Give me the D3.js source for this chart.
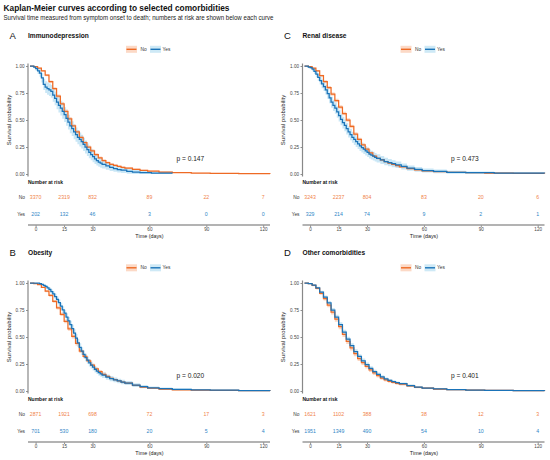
<!DOCTYPE html>
<html><head><meta charset="utf-8">
<script src="https://cdn.jsdelivr.net/npm/d3@7/dist/d3.min.js"></script>
<style>
body{margin:0;background:#fff;}
svg{display:block;font-family:"Liberation Sans",Arial,Helvetica,sans-serif;}
</style></head>
<body>
<svg id="chart" width="550" height="460"></svg>
<script>
// ---------------- DATA ----------------
const panelLetters = ["A", "B", "C", "D"];
const panelTitles = ["Immunodepression", "Obesity", "Renal disease", "Other comorbidities"];
const pValues = ["p = 0.147", "p = 0.020", "p = 0.473", "p = 0.401"];
const groupLabels = ["No", "Yes"];
const yTicks = [0, 0.25, 0.5, 0.75, 1];
const riskTimes = [0, 15, 30, 60, 90, 120];
const riskNo  = [[3370, 2319, 832, 89, 22, 7], [2871, 1921, 698, 72, 17, 3], [3243, 2237, 804, 83, 20, 6], [1621, 1102, 388, 38, 12, 3]];
const riskYes = [[202, 132, 46, 3, 0, 0], [701, 530, 180, 20, 5, 4], [329, 214, 74, 9, 2, 1], [1951, 1349, 490, 54, 10, 4]];

// survival estimates [day, probability]
const survA_No = [[0,1],[2,0.995],[4,0.98],[6,0.955],[8,0.915],[10,0.855],[12,0.79],[14,0.72],[16,0.65],[18,0.58],[20,0.51],[22,0.445],[24,0.39],[26,0.34],[28,0.29],[30,0.25],[32,0.215],[34,0.18],[36,0.15],[38,0.125],[40,0.105],[42,0.09],[44,0.08],[46,0.07],[48,0.062],[50,0.055],[54,0.043],[58,0.033],[62,0.026],[68,0.018],[75,0.012],[85,0.008],[95,0.005],[110,0.003],[126.5,0.002]];
const survA_Yes = [[0,1],[2,0.99],[3,0.975],[4,0.955],[5,0.935],[6,0.89],[7,0.83],[8,0.805],[9,0.79],[10,0.78],[11,0.765],[12,0.73],[13,0.7],[14,0.665],[15,0.635],[16,0.61],[17,0.58],[18,0.55],[19,0.515],[20,0.48],[21,0.445],[22,0.42],[23,0.39],[24,0.365],[25,0.34],[26,0.32],[27,0.3],[28,0.275],[29,0.25],[30,0.225],[31,0.2],[32,0.18],[33,0.16],[34,0.14],[35,0.125],[36,0.11],[37,0.1],[38,0.09],[40,0.075],[42,0.062],[44,0.05],[46,0.04],[48,0.035],[51,0.025],[54,0.018],[58,0.012],[64,0.008],[75,0.006]];
const survB_No = [[0,1],[2,0.995],[4,0.985],[6,0.96],[8,0.925],[10,0.885],[12,0.83],[14,0.77],[16,0.71],[18,0.645],[20,0.575],[22,0.505],[24,0.44],[26,0.37],[28,0.32],[30,0.28],[32,0.24],[34,0.205],[36,0.18],[38,0.155],[40,0.135],[42,0.118],[44,0.105],[46,0.094],[48,0.082],[50,0.072],[54,0.052],[58,0.036],[62,0.026],[68,0.017],[75,0.011],[85,0.007],[95,0.005],[110,0.003],[126.5,0.002]];
const survB_Yes = [[0,1],[3,0.999],[5,0.995],[6,0.988],[7,0.978],[8,0.968],[9,0.955],[10,0.94],[11,0.92],[12,0.9],[13,0.875],[14,0.848],[15,0.818],[16,0.787],[17,0.752],[18,0.72],[19,0.685],[20,0.65],[21,0.615],[22,0.578],[23,0.535],[24,0.49],[25,0.445],[26,0.405],[27,0.37],[28,0.34],[29,0.31],[30,0.285],[31,0.26],[32,0.24],[33,0.22],[34,0.2],[35,0.185],[36,0.17],[37,0.158],[38,0.147],[40,0.128],[42,0.115],[44,0.103],[46,0.093],[48,0.083],[50,0.074],[54,0.055],[58,0.04],[62,0.03],[68,0.021],[75,0.015],[85,0.01],[95,0.007],[110,0.004],[126.5,0.003]];
const survC_No = [[0,1],[2,0.995],[4,0.98],[6,0.955],[8,0.91],[10,0.855],[12,0.8],[14,0.74],[16,0.68],[18,0.62],[20,0.56],[22,0.5],[24,0.44],[26,0.37],[28,0.32],[30,0.27],[32,0.23],[34,0.195],[36,0.165],[38,0.145],[40,0.13],[42,0.115],[44,0.1],[46,0.088],[48,0.077],[50,0.067],[54,0.05],[58,0.038],[62,0.03],[68,0.022],[75,0.016],[85,0.012],[95,0.009],[110,0.006],[126.5,0.005]];
const survC_Yes = [[0,1],[2,0.99],[3,0.985],[4,0.97],[5,0.95],[6,0.925],[7,0.895],[8,0.865],[9,0.835],[10,0.81],[11,0.78],[12,0.745],[13,0.705],[14,0.665],[15,0.635],[16,0.61],[17,0.575],[18,0.54],[19,0.505],[20,0.475],[21,0.45],[22,0.42],[23,0.39],[24,0.365],[25,0.34],[26,0.32],[27,0.3],[28,0.28],[29,0.26],[30,0.245],[31,0.23],[32,0.215],[33,0.2],[34,0.185],[35,0.175],[36,0.165],[37,0.155],[38,0.145],[40,0.13],[42,0.115],[44,0.105],[46,0.095],[48,0.085],[51,0.07],[54,0.055],[58,0.042],[62,0.032],[68,0.024],[75,0.016],[85,0.012],[100,0.009],[126.5,0.008]];
const survD_No = [[0,1],[2,0.995],[4,0.978],[6,0.95],[8,0.905],[10,0.855],[12,0.795],[14,0.73],[16,0.665],[18,0.595],[20,0.525],[22,0.46],[24,0.4],[26,0.345],[28,0.3],[30,0.262],[32,0.228],[34,0.195],[36,0.167],[38,0.143],[40,0.12],[42,0.103],[44,0.09],[46,0.08],[48,0.071],[50,0.063],[54,0.047],[58,0.034],[62,0.026],[68,0.018],[75,0.012],[85,0.008],[95,0.005],[110,0.003],[126.5,0.002]];
const survD_Yes = [[0,1],[2,0.995],[4,0.98],[6,0.955],[8,0.915],[10,0.87],[12,0.815],[14,0.75],[16,0.685],[18,0.615],[20,0.545],[22,0.48],[24,0.42],[26,0.365],[28,0.32],[30,0.28],[32,0.245],[34,0.21],[36,0.18],[38,0.155],[40,0.13],[42,0.112],[44,0.098],[46,0.087],[48,0.077],[50,0.068],[54,0.05],[58,0.036],[62,0.027],[68,0.019],[75,0.013],[85,0.008],[95,0.005],[110,0.003],[126.5,0.002]];

const survNo = [survA_No, survB_No, survC_No, survD_No];
const survYes = [survA_Yes, survB_Yes, survC_Yes, survD_Yes];

// ---------------- STYLE ----------------
const colNo = "#EE6A24", colYes = "#1A73B8";
const bandNo = "#F9B48E", bandYes = "#9ED4EE";
const colNoTxt = "#F0834A", colYesTxt = "#2F86C6";

const svg = d3.select("#chart");
svg.append("rect").attr("width", 550).attr("height", 460).attr("fill", "#fff");

svg.append("text").attr("x", 3.5).attr("y", 10.5)
  .attr("font-size", 9.5).attr("font-weight", "bold").attr("fill", "#111")
  .attr("textLength", 226).attr("lengthAdjust", "spacingAndGlyphs")
  .text("Kaplan-Meier curves according to selected comorbidities");
svg.append("text").attr("x", 3.5).attr("y", 19.5)
  .attr("font-size", 6.3).attr("fill", "#222")
  .attr("textLength", 270).attr("lengthAdjust", "spacingAndGlyphs")
  .text("Survival time measured from symptom onset to death; numbers at risk are shown below each curve");

const origins = [[0, 0], [0, 217], [274.5, 0], [274.5, 217]];

function drawPanel(i) {
  const [ox, oy] = origins[i];
  const g = svg.append("g").attr("transform", `translate(${ox},${oy})`);
  const y = d3.scaleLinear().domain([0, 1]).range([174, 66]);
  const x = d3.scaleLinear().domain([0, 126.5]).range([30, 270]);
  const xt = d3.scaleLinear().domain([0, 120]).range([35.6, 263.2]);

  // letter + title
  g.append("text").attr("x", 9.5).attr("y", 39).attr("font-size", 9.5).attr("fill", "#111").text(panelLetters[i]);
  g.append("text").attr("x", 28).attr("y", 38).attr("font-size", 6.6).attr("font-weight", "bold").attr("fill", "#111").text(panelTitles[i]);

  // legend
  const ly = 49.3 + (i % 2 === 1 ? 1.5 : 0);
  const leg = [[126, colNo, bandNo, 140.5], [150, colYes, bandYes, 162.5]];
  leg.forEach((L, k) => {
    g.append("rect").attr("x", L[0]).attr("y", ly - 3.5).attr("width", 11).attr("height", 7)
      .attr("fill", L[2]).attr("opacity", 0.5);
    g.append("line").attr("x1", L[0] + 0.5).attr("x2", L[0] + 10.5).attr("y1", ly).attr("y2", ly)
      .attr("stroke", L[1]).attr("stroke-width", 1.4);
    g.append("text").attr("x", L[3]).attr("y", ly).attr("dy", "0.35em").attr("font-size", 4.8).attr("fill", "#333").text(groupLabels[k]);
  });

  // y axis
  const ya = g.append("g").attr("transform", "translate(28,0)")
    .call(d3.axisLeft(y).tickValues(yTicks).tickFormat(d3.format(".2f")).tickSize(2).tickPadding(1.5));
  ya.select(".domain").remove();
  ya.selectAll(".tick line").attr("stroke", "#444").attr("stroke-width", 0.6);
  ya.selectAll(".tick text").attr("font-size", 4.6).attr("fill", "#444").attr("font-family", "Liberation Sans, Arial, sans-serif");
  g.append("line").attr("x1", 28).attr("x2", 28).attr("y1", 63.5).attr("y2", 176.5).attr("stroke", "#888").attr("stroke-width", 1.2);
  g.append("text").attr("transform", `translate(10.5,120) rotate(-90)`).attr("text-anchor", "middle")
    .attr("font-size", 6).attr("fill", "#222").text("Survival probability");

  // bands + lines
  const groups = [[survNo[i], riskNo[i][0], colNo, bandNo], [survYes[i], riskYes[i][0], colYes, bandYes]];
  groups.forEach(([data, n, c, b]) => {
    const half = d => 1.96 * Math.sqrt(d[1] * (1 - d[1]) / n);
    const area = d3.area().curve(d3.curveStepAfter)
      .x(d => x(d[0]))
      .y0(d => y(Math.max(0, d[1] - half(d))))
      .y1(d => y(Math.min(1, d[1] + half(d))));
    g.append("path").datum(data).attr("d", area).attr("fill", b).attr("opacity", 0.55);
  });
  groups.forEach(([data, n, c]) => {
    const line = d3.line().curve(d3.curveStepAfter).x(d => x(d[0])).y(d => y(d[1]));
    g.append("path").datum(data).attr("d", line).attr("fill", "none").attr("stroke", c).attr("stroke-width", 1.25);
  });

  // p-value
  g.append("text").attr("x", 176.5).attr("y", 160.5).attr("font-size", 6.6).attr("fill", "#222").text(pValues[i]);

  // risk table
  g.append("text").attr("x", 28).attr("y", 184).attr("font-size", 5).attr("font-weight", "bold").attr("fill", "#111").text("Number at risk");
  const rows = [[riskNo[i], 197, colNoTxt, groupLabels[0]], [riskYes[i], 214, colYesTxt, groupLabels[1]]];
  rows.forEach(([vals, ry, c, lab]) => {
    g.append("text").attr("x", 25).attr("y", ry).attr("dy", "0.35em").attr("text-anchor", "end")
      .attr("font-size", 4.8).attr("fill", "#333").text(lab);
    g.selectAll(null).data(vals).enter().append("text")
      .attr("x", (d, k) => xt(riskTimes[k])).attr("y", ry).attr("dy", "0.35em")
      .attr("text-anchor", "middle").attr("font-size", 5.2).attr("fill", c).text(d => d);
  });
  const xa = g.append("g").attr("transform", "translate(0,225)")
    .call(d3.axisBottom(xt).tickValues(riskTimes).tickSize(2).tickPadding(1.2));
  xa.select(".domain").remove();
  xa.selectAll(".tick line").attr("stroke", "#444").attr("stroke-width", 0.6);
  xa.selectAll(".tick text").attr("font-size", 4.6).attr("fill", "#444").attr("font-family", "Liberation Sans, Arial, sans-serif");
  g.append("line").attr("x1", 28).attr("x2", 270).attr("y1", 225).attr("y2", 225).attr("stroke", "#9a9a9a").attr("stroke-width", 1.6);
  g.append("text").attr("x", 149.5).attr("y", 237.5).attr("text-anchor", "middle").attr("font-size", 5.4).attr("fill", "#222").text("Time (days)");
}
[0, 1, 2, 3].forEach(drawPanel);
</script>
</body></html>
